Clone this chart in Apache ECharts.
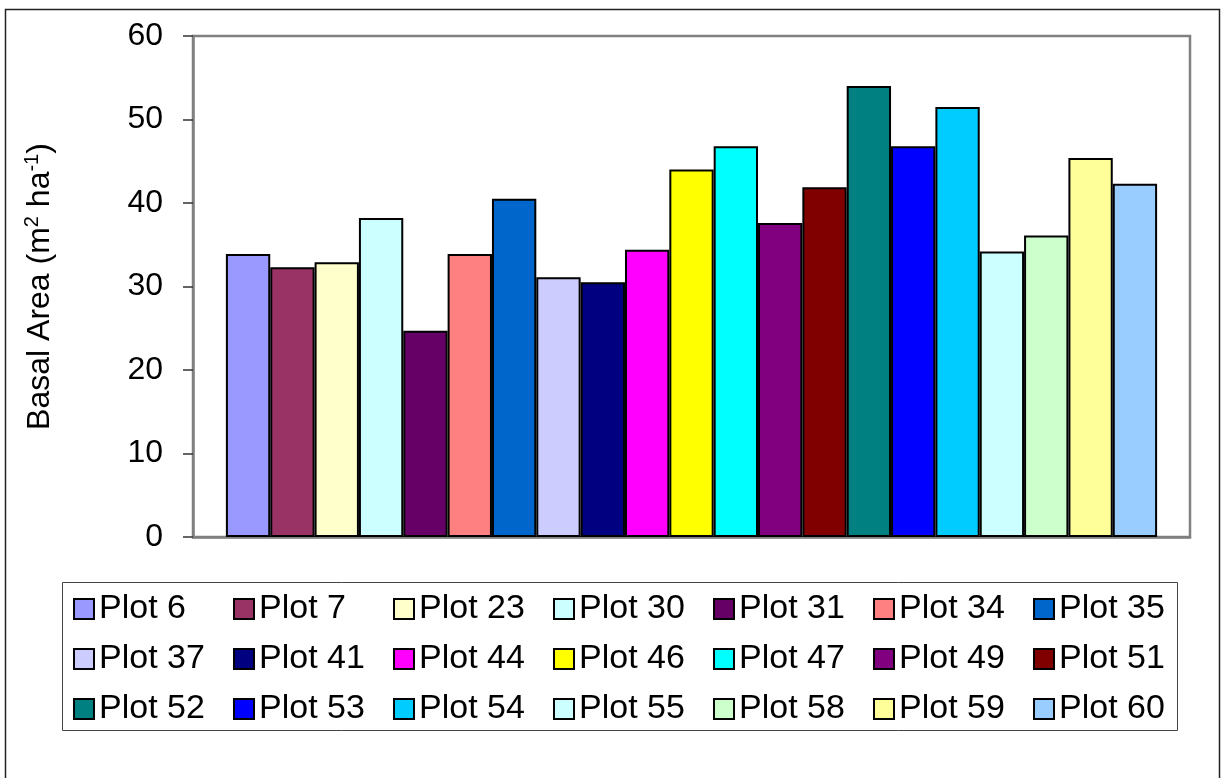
<!DOCTYPE html>
<html>
<head>
<meta charset="utf-8">
<script src="https://cdn.jsdelivr.net/npm/echarts@6/dist/echarts.min.js"></script>
<style>
html,body{margin:0;padding:0;background:#fff;}
#chart{width:1225px;height:778px;}
</style>
</head>
<body>
<div id="chart"></div>
<script>
const plots = ['Plot 6','Plot 7','Plot 23','Plot 30','Plot 31','Plot 34','Plot 35',
  'Plot 37','Plot 41','Plot 44','Plot 46','Plot 47','Plot 49','Plot 51',
  'Plot 52','Plot 53','Plot 54','Plot 55','Plot 58','Plot 59','Plot 60'];
const basalArea = [33.9, 32.3, 32.9, 38.2, 24.7, 33.9, 40.5,
  31.1, 30.5, 34.4, 44.0, 46.8, 37.6, 41.9,
  54.0, 46.8, 51.5, 34.2, 36.1, 45.4, 42.3];
const colors = ['#9999FF','#993366','#FFFFCC','#CCFFFF','#660066','#FF8080','#0066CC',
  '#CCCCFF','#000080','#FF00FF','#FFFF00','#00FFFF','#800080','#800000',
  '#008080','#0000FF','#00CCFF','#CCFFFF','#CCFFCC','#FFFF99','#99CCFF'];
const yTicks = [0, 10, 20, 30, 40, 50, 60];

const FONT = '"Liberation Sans", Arial, sans-serif';
const chart = echarts.init(document.getElementById('chart'), null, {renderer: 'canvas'});

const series = plots.map((p, i) => ({
  name: p,
  type: 'bar',
  data: [basalArea[i]],
  barGap: '0%',
  barCategoryGap: '6.6%',
  itemStyle: {color: colors[i], borderColor: '#000', borderWidth: 2},
  emphasis: {disabled: true},
  animation: false
}));

chart.setOption({
  animation: false,
  backgroundColor: '#fff',
  graphic: [{
    type: 'rect', silent: true, z: -10,
    shape: {x: 5.5, y: 9.5, width: 1214, height: 800},
    style: {fill: 'none', stroke: '#222', lineWidth: 1.5}
  }, {
    type: 'rect', silent: true, z: -5,
    shape: {x: 62.5, y: 582.5, width: 1115, height: 148},
    style: {fill: 'none', stroke: '#444', lineWidth: 1}
  }],
  grid: {
    left: 193, right: 35, top: 36, bottom: 241,
    show: true, borderColor: '#808080', borderWidth: 2.5, backgroundColor: '#fff'
  },
  xAxis: {
    type: 'category', data: [''],
    axisLine: {show: true, lineStyle: {color: '#808080', width: 2.5}},
    axisTick: {show: false}, axisLabel: {show: false}, splitLine: {show: false}
  },
  yAxis: {
    type: 'value', min: yTicks[0], max: yTicks[yTicks.length - 1], interval: 10,
    axisLine: {show: true, lineStyle: {color: '#808080', width: 2.5}},
    axisTick: {show: true, length: 10, lineStyle: {color: '#333', width: 1.5}},
    splitLine: {show: false},
    axisLabel: {fontFamily: FONT, fontSize: 32, color: '#000', margin: 30},
    name: '{n|Basal Area (m}{s|2}{n| ha}{s|-1}{n|)}',
    nameLocation: 'middle', nameRotate: 90, nameGap: 135,
    nameTextStyle: {
      rich: {
        n: {fontFamily: FONT, fontSize: 32, color: '#000', lineHeight: 36},
        s: {fontFamily: FONT, fontSize: 20, color: '#000', lineHeight: 18, verticalAlign: 'top'}
      }
    }
  },
  legend: {
    data: plots,
    left: 62, top: 582,
    width: 1125,
    padding: [10, 10, 9, 11],
    orient: 'horizontal',
    icon: 'rect',
    itemWidth: 20, itemHeight: 20, itemGap: 16,
    selectedMode: false,
    textStyle: {fontFamily: FONT, fontSize: 34, color: '#000', width: 118, lineHeight: 30}
  },
  series: series
});
</script>
</body>
</html>
